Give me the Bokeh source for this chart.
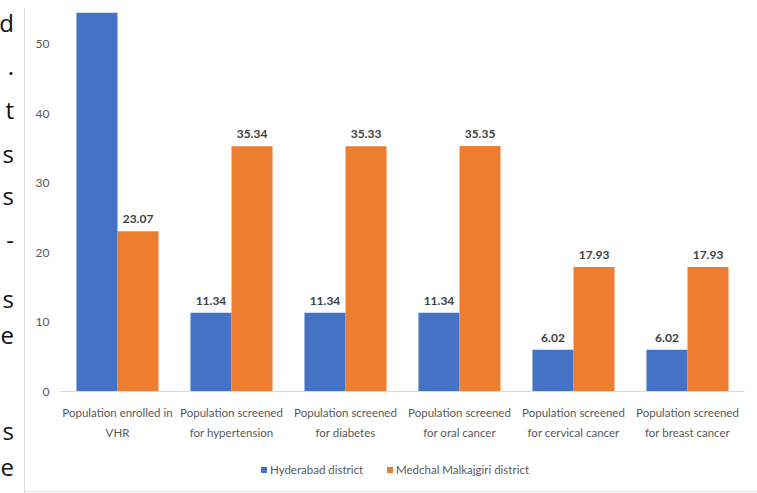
from bokeh.plotting import figure
from bokeh.models import (FactorRange, Range1d, Div, ColumnDataSource, FixedTicker)
from bokeh.layouts import row, column
from bokeh.transform import dodge
from bokeh.core.properties import value
from bokeh.embed import file_html
from bokeh.resources import INLINE

# ---------------- data ----------------
categories = [
    "Population enrolled in\nVHR",
    "Population screened\nfor hypertension",
    "Population screened\nfor diabetes",
    "Population screened\nfor oral cancer",
    "Population screened\nfor cervical cancer",
    "Population screened\nfor breast cancer",
]
hyderabad = [54.6, 11.34, 11.34, 11.34, 6.02, 6.02]
medchal = [23.07, 35.34, 35.33, 35.35, 17.93, 17.93]
hyderabad_labels = ["", "11.34", "11.34", "11.34", "6.02", "6.02"]
medchal_labels = ["23.07", "35.34", "35.33", "35.35", "17.93", "17.93"]
y_ticks = [0, 10, 20, 30, 40, 50]
series_names = ["Hyderabad district", "Medchal Malkajgiri district"]

# fragments of the surrounding document text visible on the left
side_letters = ["d", ".", "t", "s", "s", "-", "s", "e", "s", "e"]
side_baselines = [32, 75, 119, 163, 205, 249, 308, 344, 440, 476]

H = 493
SIDE_W = 25
CHART_W = 757 - SIDE_W
LEGEND_H = 38
BLUE, ORANGE = "#4472C4", "#ED7D31"
COLORS = [BLUE, ORANGE]
FONT = "Lato"

# ---------------- left strip (page text + chart-area border) ----------------
spans = "".join(
    f'<span style="position:absolute;right:11px;top:{b - 21}px;'
    f'font-family:\'Open Sans\';font-size:24px;line-height:24px;color:#111;">{c}</span>'
    for c, b in zip(side_letters, side_baselines)
)
side = Div(
    text=(f'<div style="position:relative;width:{SIDE_W}px;height:{H}px;overflow:hidden;'
          f'background:#fff;">{spans}'
          f'<div style="position:absolute;left:{SIDE_W - 1}px;top:8px;width:1px;'
          f'height:{H - 8}px;background:#dcdcdc;"></div></div>'),
    width=SIDE_W, height=H, margin=0,
)

# ---------------- chart ----------------
source = ColumnDataSource(dict(cat=categories, hyd=hyderabad, med=medchal,
                               hyd_lab=hyderabad_labels, med_lab=medchal_labels))

p = figure(width=CHART_W, height=H - LEGEND_H, output_backend="svg",
           toolbar_location=None,
           x_range=FactorRange(*categories), y_range=Range1d(0, 54.6),
           min_border_left=60 - SIDE_W, min_border_right=13, min_border_top=12,
           min_border_bottom=H - LEGEND_H - 391, margin=0)

p.border_fill_color = "white"
p.outline_line_color = None

p.vbar(x=dodge("cat", -0.18, range=p.x_range), top="hyd", width=0.36,
       source=source, fill_color=BLUE, line_color=None)
p.vbar(x=dodge("cat", 0.18, range=p.x_range), top="med", width=0.36,
       source=source, fill_color=ORANGE, line_color=None)

for col, off in (("hyd", -0.18), ("med", 0.18)):
    p.text(x=dodge("cat", off, range=p.x_range), y=col, text=col + "_lab",
           source=source, text_align="center", text_baseline="alphabetic",
           y_offset=-12, text_font=value(FONT), text_font_size="12px",
           text_font_style="bold", text_color="#404040")

p.xgrid.grid_line_color = None
p.ygrid.grid_line_color = None

p.yaxis.ticker = FixedTicker(ticks=y_ticks)
p.yaxis.axis_line_color = None
p.yaxis.major_tick_line_color = None
p.yaxis.major_tick_out = 0
p.yaxis.major_tick_in = 0
p.yaxis.minor_tick_line_color = None
p.yaxis.major_label_standoff = 11
p.yaxis.major_label_text_font = FONT
p.yaxis.major_label_text_font_size = "12px"
p.yaxis.major_label_text_color = "#595959"

p.xaxis.axis_line_color = "#d9d9d9"
p.xaxis.axis_line_width = 1
p.xaxis.major_tick_line_color = None
p.xaxis.major_tick_out = 0
p.xaxis.major_tick_in = 0
p.xaxis.major_label_standoff = 14
p.xaxis.major_label_text_font = FONT
p.xaxis.major_label_text_font_size = "11.5px"
p.xaxis.major_label_text_color = "#595959"
p.xaxis.major_label_text_line_height = 1.6

# ---------------- legend strip (with the chart-area bottom border) ----------------
legend_x = [236, 362]   # left edges of the legend swatches inside the strip
items = "".join(
    f'<span style="position:absolute;left:{x}px;top:12px;width:6px;height:6px;'
    f'background:{c};"></span>'
    f'<span style="position:absolute;left:{x + 9}px;top:8px;font-family:Lato;'
    f'font-size:11.5px;line-height:14px;color:#595959;white-space:nowrap;">{name}</span>'
    for x, c, name in zip(legend_x, COLORS, series_names)
)
legend_div = Div(
    text=(f'<div style="position:relative;width:{CHART_W}px;height:{LEGEND_H}px;'
          f'overflow:hidden;background:#fff;">{items}'
          f'<div style="position:absolute;left:0;top:{LEGEND_H - 2}px;width:{CHART_W}px;'
          f'height:1px;background:#e4e4e4;"></div></div>'),
    width=CHART_W, height=LEGEND_H, margin=0,
)

layout = row(side, column(p, legend_div, spacing=0), spacing=0)
open("out.html", "w").write(file_html(layout, INLINE))
